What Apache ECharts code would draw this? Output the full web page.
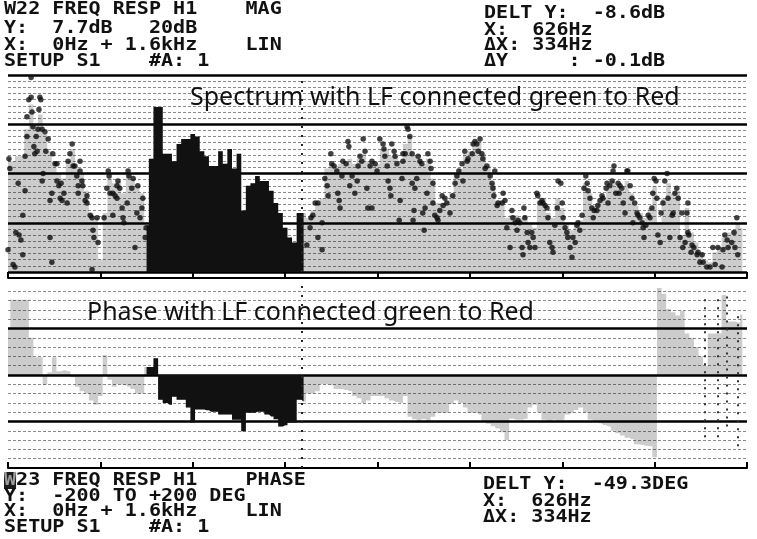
<!DOCTYPE html>
<html><head><meta charset="utf-8">
<script src="https://cdn.jsdelivr.net/npm/echarts@6/dist/echarts.min.js"></script>
<style>html,body{margin:0;padding:0;background:#fff}#c{width:757px;height:539px}</style>
</head><body><div id="c"></div>
<script>
// ---------- data ----------
const binStepHz = 10; // trace bins, 0 .. 1590 Hz
// magnitude trace fill (dB), one value per 10 Hz bin
const magFill = [
-34,-35,-33,-33,-22,-12,-20,-16,-24,-31, -35,-40,-42,-35,-30,-38,-40,-47,-56,-58,
-75,-56,-42,-44,-43,-48,-40,-42,-45,-48, -61,-34,-13,-13,-32,-32,-35,-28,-26,-26,
-24,-25,-31,-33,-37,-37,-31,-36,-30,-38, -32,-55,-45,-44,-41,-43,-43,-47,-52,-56,
-62,-66,-68,-56,-56,-58,-55,-52,-50,-38, -36,-37,-36,-35,-34,-36,-34,-32,-35,-35,
-36,-30,-30,-33,-33,-35,-28,-25,-33,-34, -36,-34,-42,-52,-52,-51,-48,-40,-38,-32,
-31,-28,-27,-32,-37,-44,-51,-51,-58,-57, -57,-58,-57,-60,-62,-51,-50,-56,-58,-50,
-54,-60,-63,-60,-59,-44,-48,-53,-51,-50, -46,-43,-45,-47,-43,-48,-53,-56,-58,-54,
-45,-60,-50,-44,-48,-47,-65,-54,-64,-68, -72,-75,-76,-72,-70,-66,-64,-63,-60,-62
];
// magnitude trace points [Hz, dB]
const magDots = [
[2,-34],[4,-38],[0,-71],[11,-77],[15,-78],[22,-44],[17,-64],[24,-65],[28,-67],[32,-73],[32,-57],[37,-33],[37,-47],
[41,-25],[41,-17],[45,-10],[50,-9],[50,-1],[52,-15],[54,-21],[56,-29],[58,-32],[61,-25],[63,-31],[67,-14],[69,-9],
[71,-10],[65,-22],[74,-22],[80,-23],[82,-31],[87,-26],[76,-40],[74,-43],[91,-51],[91,-66],[95,-48],[95,-76],[97,-32],
[102,-36],[106,-36],[106,-43],[110,-45],[115,-44],[113,-50],[117,-51],[121,-48],[128,-52],[130,-35],[134,-32],[139,-28],
[141,-37],[145,-37],[149,-41],[152,-48],[152,-45],[156,-35],[156,-39],[160,-43],[162,-45],[167,-51],[171,-49],[171,-52],
[178,-57],[182,-58],[184,-63],[186,-66],[193,-58],[195,-68],[182,-79],[208,-58],[217,-39],[214,-46],[219,-41],[221,-48],
[227,-48],[232,-49],[236,-50],[227,-57],[236,-45],[238,-43],[242,-46],[247,-54],[249,-58],[251,-60],[258,-52],[260,-39],
[262,-41],[268,-46],[271,-42],[275,-70],[279,-56],[281,-45],[286,-58],[290,-54],[292,-50],[297,-66],[299,-62],
[647,-69],[654,-62],[656,-58],[660,-57],[665,-52],[671,-52],[671,-66],[680,-60],[680,-71],[686,-42],[691,-45],[693,-49],
[699,-32],[701,-36],[706,-37],[712,-39],[714,-48],[717,-51],[719,-54],[723,-41],[725,-35],[732,-36],[736,-27],[738,-29],
[740,-45],[745,-41],[751,-48],[756,-43],[758,-37],[762,-33],[766,-35],[769,-26],[773,-31],[777,-46],[779,-54],[784,-37],
[788,-35],[788,-54],[795,-36],[799,-39],[805,-26],[812,-28],[814,-30],[816,-33],[821,-37],[823,-43],[827,-46],[829,-49],
[831,-28],[836,-31],[838,-33],[842,-36],[847,-59],[849,-51],[853,-42],[855,-32],[855,-35],[860,-32],[864,-21],[866,-22],
[870,-25],[875,-32],[875,-44],[877,-59],[879,-55],[881,-46],[885,-42],[888,-33],[892,-35],[896,-36],[898,-56],[901,-63],
[903,-54],[907,-48],[909,-32],[914,-35],[916,-38],[920,-44],[920,-52],[924,-57],[929,-58],[931,-59],[935,-55],[940,-49],
[942,-53],[946,-50],[950,-52],[957,-56],[963,-49],[968,-44],[972,-41],[976,-39],[983,-36],[985,-43],[989,-31],[994,-35],
[996,-34],[1005,-32],[1007,-28],[1011,-27],[1015,-28],[1018,-31],[1022,-26],[1026,-32],[1028,-34],[1033,-38],[1037,-37],
[1044,-41],[1048,-44],[1050,-46],[1052,-49],[1054,-39],[1059,-53],[1061,-52],[1070,-52],[1072,-48],[1076,-51],[1080,-62],
[1087,-70],[1091,-55],[1093,-58],[1098,-60],[1102,-63],[1104,-59],[1108,-60],[1113,-70],[1115,-73],[1117,-54],[1119,-58],
[1124,-64],[1126,-68],[1130,-70],[1134,-64],[1137,-66],[1141,-70],[1145,-48],[1147,-49],[1152,-52],[1156,-51],[1158,-52],
[1163,-53],[1167,-54],[1169,-58],[1173,-68],[1178,-70],[1180,-72],[1184,-61],[1189,-54],[1191,-43],[1197,-44],[1200,-52],
[1202,-58],[1206,-62],[1210,-64],[1212,-66],[1217,-70],[1221,-74],[1223,-66],[1228,-68],[1232,-61],[1234,-60],[1238,-63],
[1243,-57],[1247,-46],[1251,-41],[1254,-44],[1256,-47],[1260,-50],[1264,-54],[1267,-58],[1269,-55],[1275,-55],[1277,-53],
[1282,-51],[1286,-49],[1288,-50],[1295,-46],[1297,-44],[1299,-52],[1303,-45],[1308,-43],[1310,-39],[1312,-37],[1316,-48],
[1321,-44],[1323,-48],[1325,-45],[1329,-46],[1332,-52],[1336,-56],[1340,-39],[1342,-39],[1347,-45],[1351,-50],[1353,-60],
[1357,-52],[1362,-56],[1364,-57],[1368,-58],[1373,-60],[1375,-62],[1377,-66],[1381,-61],[1386,-57],[1390,-58],[1394,-54],
[1396,-48],[1399,-42],[1403,-43],[1405,-50],[1407,-65],[1412,-68],[1414,-56],[1418,-52],[1422,-43],[1427,-40],[1429,-50],
[1433,-66],[1438,-57],[1440,-56],[1444,-48],[1448,-46],[1451,-50],[1455,-66],[1459,-56],[1461,-70],[1466,-68],[1470,-56],
[1472,-52],[1472,-64],[1474,-65],[1479,-72],[1481,-69],[1485,-70],[1492,-73],[1494,-72],[1498,-76],[1503,-73],[1505,-76],
[1513,-78],[1520,-78],[1526,-70],[1531,-77],[1537,-70],[1546,-78],[1548,-71],[1552,-65],[1557,-67],[1559,-70],[1567,-68],
[1572,-64],[1574,-70],[1578,-58],[1580,-73]
];
// phase trace (deg), one value per 10 Hz bin
const phaseFill = [
100,162,162,162,162,80,38,38,-21,6, 38,8,10,8,-5,-25,-35,-40,-55,-64,
-45,43,-10,-25,-20,-22,-25,-30,-40,-40, 17,17,36,-53,-60,-64,-47,-53,-53,-70,
-102,-74,-74,-76,-79,-79,-85,-85,-85,-96, -96,-121,-81,-81,-79,-79,-85,-89,-95,-111,
-108,-102,-102,-53,-57,-40,-40,-35,-20,-20, -22,-30,-30,-32,-35,-45,-50,-60,-55,-45,
-45,-45,-50,-55,-58,-60,-45,-90,-95,-100, -95,-100,-90,-81,-81,-81,-62,-55,-60,-70,
-81,-81,-85,-100,-105,-110,-115,-123,-140,-94, -96,-96,-94,-70,-64,-80,-96,-100,-96,-98,
-96,-85,-81,-75,-70,-81,-96,-100,-104,-108, -111,-120,-125,-130,-135,-138,-149,-150,-152,-153,
-177,187,175,142,135,128,138,89,80,60, 40,20,89,89,89,172,115,115,113,130
];
// band between the two markers (shown black)
const bandLoHz = 300, bandHiHz = 640;
const markerHz = 636;
// phase wrap columns
const wrapHz = [1509, 1537, 1557, 1580];
const wrapLo = [-134, -134, -111, -153];
const wrapHi = [166, 166, 170, 140];

const headTopLeft = ['W22 FREQ RESP H1    MAG', 'Y:  7.7dB   20dB', 'X:  0Hz + 1.6kHz    LIN', 'SETUP S1    #A: 1'];
const headTopRight = ['DELT Y:  -8.6dB', 'X:  626Hz', '\u0394X: 334Hz', '\u0394Y     : -0.1dB'];
const headBotLeft = ['W23 FREQ RESP H1    PHASE', 'Y:  -200 TO +200 DEG', 'X:  0Hz + 1.6kHz    LIN', 'SETUP S1    #A: 1'];
const headBotRight = ['DELT Y:  -49.3DEG', 'X:  626Hz', '\u0394X: 334Hz'];
const magNote = 'Spectrum with LF connected green to Red';
const phaseNote = 'Phase with LF connected green to Red';

// ---------- build ----------
const magPts = magFill.map((v, i) => [i * binStepHz, v]);
const magBand = magPts.filter(p => p[0] >= bandLoHz && p[0] <= bandHiHz);
const phPts = phaseFill.map((v, i) => [i * binStepHz, v]);
const phBand = phPts.filter(p => p[0] >= bandLoHz && p[0] <= bandHiHz);

const mono = '700 17px "DejaVu Sans Mono"';
function block(lines, x, tops, firstRich) {
  return lines.map((t, i) => ({
    type: 'text', x: x, y: tops[i] - 2, scaleX: 1.18, scaleY: 1,
    style: {
      text: (firstRich && i === 0) ? '{inv|' + t[0] + '}' + t.slice(1) : t,
      font: mono, fill: '#111', textAlign: 'left', textVerticalAlign: 'top',
      rich: { inv: { font: mono, fill: '#9a9a9a', backgroundColor: '#1a1a1a' } }
    }
  }));
}

const boldLine = { color: '#000', width: 2.5 };
const minorLine = { color: '#8a8a8a', width: 1, type: [3, 2] };
const grayArea = 'rgba(0,0,0,0.2)';
const xAxisBase = {
  type: 'value', min: 0, max: 1600, interval: 200, position: 'bottom',
  axisLine: { show: true, onZero: false, lineStyle: { color: '#000', width: 2 } },
  axisTick: { show: true, inside: true, length: 6, lineStyle: { color: '#000', width: 2 } },
  axisLabel: { show: false }, splitLine: { show: false }
};

const chart = echarts.init(document.getElementById('c'), null, { renderer: 'canvas' });
chart.setOption({
  animation: false,
  backgroundColor: '#fff',
  grid: [
    { left: 8, right: 10, top: 75, height: 197 },
    { left: 8, right: 10, top: 282, height: 186 }
  ],
  xAxis: [
    Object.assign({}, xAxisBase, { gridIndex: 0, offset: 6 }),
    Object.assign({}, xAxisBase, { gridIndex: 1, offset: 0 })
  ],
  yAxis: [
    { gridIndex: 0, type: 'value', min: -80, max: 0, interval: 20, position: 'left',
      axisLine: { show: false }, axisTick: { show: false }, axisLabel: { show: false },
      splitLine: { show: true, lineStyle: boldLine },
      minorTick: { show: false, splitNumber: 8 },
      minorSplitLine: { show: true, lineStyle: minorLine } },
    { gridIndex: 1, type: 'value', min: -200, max: 200, interval: 100, position: 'left',
      axisLine: { show: false }, axisTick: { show: false }, axisLabel: { show: false },
      splitLine: { show: true, showMaxLine: false, showMinLine: false, lineStyle: boldLine },
      minorTick: { show: false, splitNumber: 5 },
      minorSplitLine: { show: true, lineStyle: minorLine } }
  ],
  series: [
    { type: 'line', xAxisIndex: 0, yAxisIndex: 0, data: magPts, step: 'middle', symbol: 'none',
      lineStyle: { width: 0, opacity: 0 }, areaStyle: { color: grayArea, origin: 'start', opacity: 1 },
      markLine: { silent: true, symbol: ['none', 'none'], label: { show: false },
        lineStyle: { color: '#222', width: 2, type: [2, 7] }, data: [{ xAxis: markerHz }] } },
    { type: 'line', xAxisIndex: 0, yAxisIndex: 0, data: magBand, step: 'middle', symbol: 'none',
      lineStyle: { width: 0, opacity: 0 }, areaStyle: { color: '#111', origin: 'start', opacity: 1 } },
    { type: 'scatter', xAxisIndex: 0, yAxisIndex: 0, data: magDots, symbolSize: 5.5,
      itemStyle: { color: '#111' } },
    { type: 'line', xAxisIndex: 1, yAxisIndex: 1, data: phPts, step: 'middle', symbol: 'none',
      lineStyle: { width: 0, opacity: 0 }, areaStyle: { color: grayArea, origin: 'auto', opacity: 1 },
      markLine: { silent: true, symbol: ['none', 'none'], label: { show: false },
        lineStyle: { color: '#222', width: 2, type: [2, 7] },
        data: [{ xAxis: markerHz }].concat(wrapHz.map((h, i) => [
          { coord: [h, wrapLo[i]], lineStyle: { color: '#333', width: 2, type: [2, 6] } },
          { coord: [h, wrapHi[i]] }])) } },
    { type: 'line', xAxisIndex: 1, yAxisIndex: 1, data: phBand, step: 'middle', symbol: 'none',
      lineStyle: { width: 0, opacity: 0 }, areaStyle: { color: '#111', origin: 'auto', opacity: 1 } }
  ],
  graphic: [].concat(
    block(headTopLeft, 4, [3, 22, 39, 55]),
    block(headTopRight, 484, [7, 24, 39, 55]),
    block(headBotLeft, 4, [474, 490, 505, 521], true),
    block(headBotRight, 483, [478, 495, 511]),
    [
      { type: 'text', x: 190, y: 85, z: 100,
        style: { text: magNote, font: '25px "Noto Sans"', fill: '#111', textAlign: 'left', textVerticalAlign: 'top' } },
      { type: 'text', x: 87, y: 300, z: 100,
        style: { text: phaseNote, font: '25px "Noto Sans"', fill: '#111', textAlign: 'left', textVerticalAlign: 'top' } }
    ]
  )
});
</script></body></html>
